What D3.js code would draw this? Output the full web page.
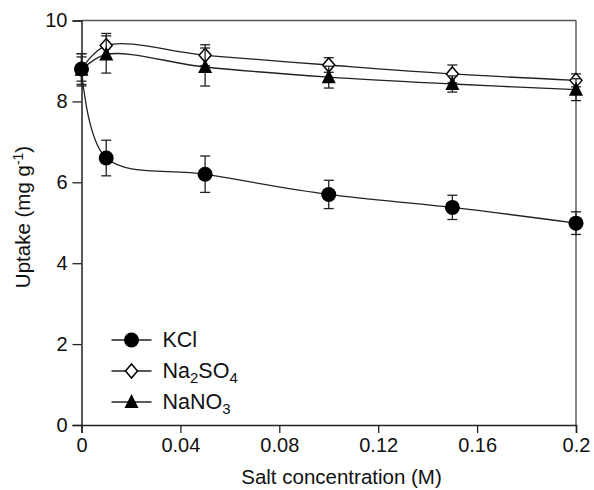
<!DOCTYPE html>
<html lang="en">
<head>
<meta charset="utf-8">
<title>Uptake vs salt concentration</title>
<script src="https://d3js.org/d3.v7.min.js"></script>
<style>
  body { margin: 0; background: #fff; }
  svg text { font-family: "Liberation Sans", Arial, Helvetica, sans-serif; fill: #111; }
  .line { fill: none; stroke: #222; stroke-width: 1.3; }
  .err { stroke: #222; stroke-width: 1.3; }
</style>
</head>
<body>
<div class="chart"></div>
<script>
// data
var conc = [0, 0.01, 0.05, 0.1, 0.15, 0.2];
var kcl = [8.8, 6.6, 6.2, 5.7, 5.38, 4.99];
var kclErr = [0.38, 0.44, 0.45, 0.35, 0.3, 0.28];
var na2so4 = [8.8, 9.38, 9.14, 8.9, 8.68, 8.52];
var na2so4Err = [0.3, 0.3, 0.26, 0.18, 0.22, 0.16];
var nano3 = [8.78, 9.16, 8.85, 8.6, 8.43, 8.29];
var nano3Err = [0.4, 0.46, 0.47, 0.27, 0.2, 0.27];
var xTicks = [0, 0.04, 0.08, 0.12, 0.16, 0.2];
var yTicks = [0, 2, 4, 6, 8, 10];

var W = 594, H = 490;
var margin = {top: 20.5, right: 18, bottom: 65, left: 81.5};
var width = W - margin.left - margin.right,
    height = H - margin.top - margin.bottom;

var x = d3.scaleLinear().domain([0, 0.2]).range([0, width]);
var y = d3.scaleLinear().domain([0, 10]).range([height, 0]);

var svg = d3.select(".chart").append("svg")
    .attr("width", W).attr("height", H)
  .append("g")
    .attr("transform", "translate(" + margin.left + "," + margin.top + ")");

// frame top / right
svg.append("line").attr("x1", 0).attr("x2", width).attr("y1", 0).attr("y2", 0)
  .attr("stroke", "#555").attr("stroke-width", 1.4);
svg.append("line").attr("x1", width).attr("x2", width).attr("y1", 0).attr("y2", height)
  .attr("stroke", "#555").attr("stroke-width", 1.4);

var xAxis = svg.append("g")
  .attr("transform", "translate(0," + height + ")")
  .call(d3.axisBottom(x).tickValues(xTicks).tickSize(8).tickPadding(5)
    .tickFormat(function(d) { return d === 0 ? "0" : String(+d.toFixed(2)); }));
var yAxis = svg.append("g")
  .call(d3.axisLeft(y).tickValues(yTicks).tickSize(9).tickPadding(5));

[xAxis, yAxis].forEach(function(a) {
  a.select(".domain").attr("stroke", "#222").attr("stroke-width", 1.5);
  a.selectAll(".tick line").attr("stroke", "#222").attr("stroke-width", 1.3);
  a.selectAll("text").style("font-size", "20px").attr("fill", "#111");
});

// axis titles
svg.append("text")
  .attr("x", 260).attr("y", height + 59)
  .attr("text-anchor", "middle")
  .style("font-size", "20.5px")
  .text("Salt concentration (M)");

var yt = svg.append("text")
  .attr("transform", "translate(" + (30 - margin.left) + "," + (217 - margin.top) + ") rotate(-90)")
  .attr("text-anchor", "middle")
  .style("font-size", "20.5px");
yt.append("tspan").text("Uptake (mg g");
yt.append("tspan").attr("dy", -7).style("font-size", "14px").text("-1");
yt.append("tspan").attr("dy", 7).text(")");

var series = [
  {name: "KCl", vals: kcl, err: kclErr, shape: "circle"},
  {name: "Na2SO4", vals: na2so4, err: na2so4Err, shape: "diamond"},
  {name: "NaNO3", vals: nano3, err: nano3Err, shape: "triangle"}
];

var line = d3.line()
  .x(function(d) { return x(d[0]); })
  .y(function(d) { return y(d[1]); })
  .curve(d3.curveCatmullRom.alpha(0.5));

function marker(g, shape) {
  if (shape === "circle") {
    g.append("circle").attr("r", 7.5).attr("fill", "#000");
  } else if (shape === "diamond") {
    g.append("path").attr("d", "M0,-7L6,0L0,7L-6,0Z")
      .attr("fill", "#fff").attr("stroke", "#000").attr("stroke-width", 1.5);
  } else {
    g.append("path").attr("d", "M0,-8L7,6L-7,6Z").attr("fill", "#000");
  }
}

series.forEach(function(s) {
  var pts = conc.map(function(c, i) { return [c, s.vals[i], s.err[i]]; });
  svg.append("path").datum(pts).attr("class", "line").attr("d", line);
});

// marks: diamonds first, then triangles, circles on top
[series[1], series[2], series[0]].forEach(function(s) {
  var pts = conc.map(function(c, i) { return [c, s.vals[i], s.err[i]]; });
  var eb = svg.append("g");
  pts.forEach(function(p) {
    var cx = x(p[0]), t = y(p[1] + p[2]), b = y(p[1] - p[2]);
    eb.append("line").attr("class", "err").attr("x1", cx).attr("x2", cx).attr("y1", t).attr("y2", b);
    eb.append("line").attr("class", "err").attr("x1", cx - 5).attr("x2", cx + 5).attr("y1", t).attr("y2", t);
    eb.append("line").attr("class", "err").attr("x1", cx - 5).attr("x2", cx + 5).attr("y1", b).attr("y2", b);
  });
  pts.forEach(function(p) {
    var g = svg.append("g").attr("transform", "translate(" + x(p[0]) + "," + y(p[1]) + ")");
    marker(g, s.shape);
  });
});

// legend
var lg = svg.append("g").attr("transform", "translate(" + (131.5 - margin.left) + "," + (340 - margin.top) + ")");
series.forEach(function(s, i) {
  var row = lg.append("g").attr("transform", "translate(0," + (i * 31) + ")");
  row.append("line").attr("x1", -20).attr("x2", 20).attr("stroke", "#222").attr("stroke-width", 1.3);
  marker(row, s.shape);
  var t = row.append("text").attr("x", 31).attr("y", 7).style("font-size", "21.5px");
  if (s.name === "KCl") {
    t.text("KCl");
  } else if (s.name === "Na2SO4") {
    t.append("tspan").text("Na");
    t.append("tspan").attr("dy", 5).style("font-size", "15px").text("2");
    t.append("tspan").attr("dy", -5).text("SO");
    t.append("tspan").attr("dy", 5).style("font-size", "15px").text("4");
  } else {
    t.append("tspan").text("NaNO");
    t.append("tspan").attr("dy", 5).style("font-size", "15px").text("3");
  }
});
</script>
</body>
</html>
